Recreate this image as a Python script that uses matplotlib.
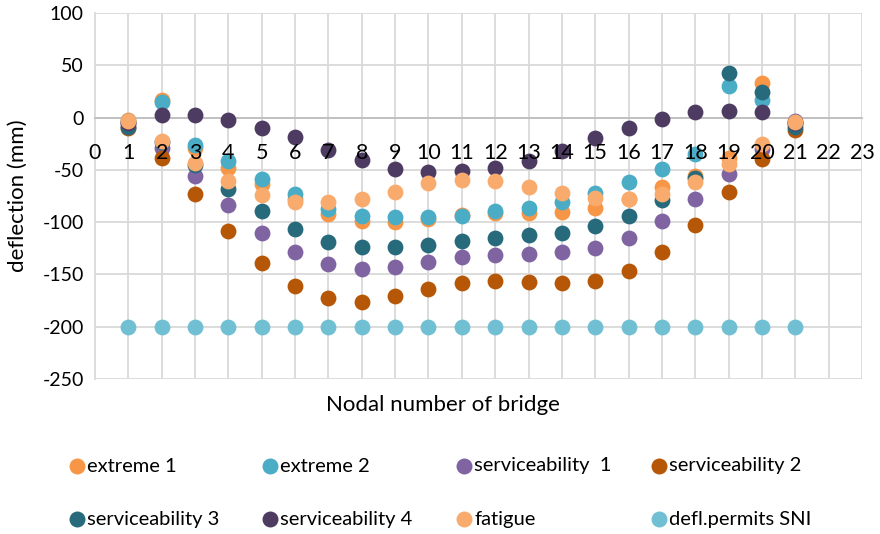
import matplotlib
matplotlib.use("Agg")
import matplotlib.pyplot as plt
from matplotlib.lines import Line2D

plt.rcParams['font.family'] = ['Lato', 'DejaVu Sans']
plt.rcParams['axes.unicode_minus'] = False

nodes = list(range(1, 22))

extreme_1 = [-2, 17, -29, -48, -64, -78, -92, -99, -100, -97, -93, -91, -91, -90, -86, -78, -66, -56, -39, 33, -4]
extreme_2 = [-3, 15, -26, -42, -59, -73, -87, -94, -95, -95, -94, -89, -86, -81, -72, -62, -49, -35, 30, 17, -5]
serviceability_1 = [-5, -29, -56, -84, -110, -129, -140, -145, -143, -138, -133, -131, -130, -129, -125, -115, -99, -78, -54, -30, -3]
serviceability_2 = [-10, -39, -73, -108, -139, -161, -173, -176, -171, -164, -158, -156, -157, -158, -156, -147, -129, -103, -71, -40, -12]
serviceability_3 = [-9, -23, -45, -68, -89, -107, -119, -124, -124, -122, -118, -115, -112, -110, -104, -94, -79, -58, 43, 24, -9]
serviceability_4 = [-5, 2, 2, -2, -10, -19, -31, -41, -49, -52, -51, -48, -42, -32, -20, -10, -1, 5, 6, 5, -5]
fatigue = [-3, -22, -43, -61, -74, -81, -81, -78, -71, -63, -60, -61, -66, -72, -77, -78, -73, -62, -44, -25, -4]
defl_permits = [-200] * 21

series = [
    ("extreme 1", extreme_1, "#F79646"),
    ("extreme 2", extreme_2, "#4BACC6"),
    ("serviceability  1", serviceability_1, "#8064A2"),
    ("serviceability 2", serviceability_2, "#B65708"),
    ("serviceability 3", serviceability_3, "#276A7C"),
    ("serviceability 4", serviceability_4, "#4D3B62"),
    ("fatigue", fatigue, "#F9AB6D"),
    ("defl.permits SNI", defl_permits, "#70BFD3"),
]

x_ticks = list(range(0, 24))
y_ticks = list(range(-250, 101, 50))

W, H = 880, 534
fig = plt.figure(figsize=(W / 100, H / 100), dpi=100)
ax = fig.add_axes([95 / W, 1 - 379 / H, (862 - 95) / W, (379 - 13) / H])

# gridlines drawn underneath everything
for xt in x_ticks[1:]:
    ax.axvline(xt, color="#D9D9D9", linewidth=1.3, zorder=0)
for yt in y_ticks:
    ax.axhline(yt, color="#D9D9D9", linewidth=1.3, zorder=0)

for name, vals, col in series:
    ax.scatter(nodes, vals, s=130, color=col, linewidths=0, zorder=2, clip_on=False)

ax.set_xlim(0, 23)
ax.set_ylim(-250, 100)
ax.set_xticks(x_ticks)
ax.set_yticks(y_ticks)
ax.set_axisbelow(False)
for s in ["top", "right"]:
    ax.spines[s].set_visible(False)
ax.spines["left"].set_color("#D9D9D9")
ax.spines["left"].set_linewidth(1.3)
ax.spines["left"].set_zorder(0.5)
ax.spines["bottom"].set_position(("data", 0))
ax.spines["bottom"].set_color("#BFBFBF")
ax.spines["bottom"].set_linewidth(1.3)
ax.spines["bottom"].set_zorder(1)
ax.tick_params(axis="x", length=0, pad=18, labelsize=15.5, labelcolor="black")
ax.tick_params(axis="y", length=0, pad=8, labelsize=14, labelcolor="black")
for lbl in ax.get_xticklabels():
    lbl.set_zorder(5)

fig.text(443 / W, 1 - 405 / H, "Nodal number of bridge", ha="center", va="center", fontsize=16)
fig.text(18 / W, 1 - 196 / H, "deflection (mm)", ha="center", va="center", rotation=90, fontsize=16)

# legend laid out in 4 equal columns like the original
col_x = [77, 270, 464, 659]
row_y = [466, 519]
for i, (name, vals, col) in enumerate(series):
    x = col_x[i % 4]
    y = row_y[i // 4]
    fig.add_artist(Line2D([x / W], [1 - y / H], marker="o", markersize=11.5,
                          color=col, markeredgewidth=0, transform=fig.transFigure))
    fig.text((x + 10) / W, 1 - y / H, name, ha="left", va="center", fontsize=14.5)

fig.savefig("out.png", dpi=100)
